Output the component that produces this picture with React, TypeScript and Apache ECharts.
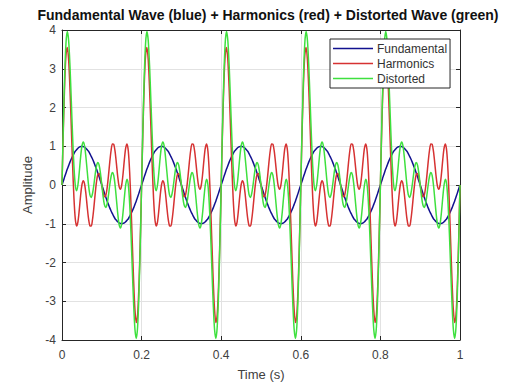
import React, { useEffect, useRef } from "react";
import * as echarts from "echarts";

// one 0.2 s cycle, 60 samples per cycle (300 samples per second)
const SAMPLES_PER_SECOND = 300;

const fundamentalCycle = [
  0, 0.10, 0.21, 0.31, 0.41, 0.50, 0.59, 0.67, 0.74, 0.81, 0.87, 0.91, 0.95, 0.98, 0.99, 1.00,
  0.99, 0.98, 0.95, 0.91, 0.87, 0.81, 0.74, 0.67, 0.59, 0.50, 0.41, 0.31, 0.21, 0.10, 0,
  -0.10, -0.21, -0.31, -0.41, -0.50, -0.59, -0.67, -0.74, -0.81, -0.87, -0.91, -0.95, -0.98, -0.99, -1.00,
  -0.99, -0.98, -0.95, -0.91, -0.87, -0.81, -0.74, -0.67, -0.59, -0.50, -0.41, -0.31, -0.21, -0.10,
];

const harmonicsCycle = [
  0, 1.42, 2.60, 3.35, 3.55, 3.23, 2.49, 1.51, 0.51, -0.33, -0.87, -1.06, -0.95, -0.65, -0.28, 0,
  0.11, 0.03, -0.22, -0.56, -0.87, -1.05, -1.06, -0.89, -0.59, -0.23, 0.08, 0.27, 0.30, 0.19, 0,
  -0.19, -0.30, -0.27, -0.08, 0.23, 0.59, 0.89, 1.06, 1.05, 0.87, 0.56, 0.22, -0.03, -0.11, 0,
  0.28, 0.65, 0.95, 1.06, 0.87, 0.33, -0.51, -1.51, -2.49, -3.23, -3.55, -3.35, -2.60, -1.42,
];

const distortedCycle = [
  0, 1.53, 2.81, 3.66, 3.96, 3.73, 3.08, 2.18, 1.25, 0.48, 0, -0.15, 0, 0.33, 0.71, 1.00,
  1.11, 1.01, 0.73, 0.36, 0, -0.25, -0.32, -0.22, 0, 0.27, 0.49, 0.58, 0.51, 0.30, 0,
  -0.30, -0.51, -0.58, -0.49, -0.27, 0, 0.22, 0.32, 0.25, 0, -0.36, -0.73, -1.01, -1.11, -1.00,
  -0.71, -0.33, 0, 0.15, 0, -0.48, -1.25, -2.18, -3.08, -3.73, -3.96, -3.66, -2.81, -1.53,
];

// the plot shows five identical cycles over 0..1 s
const fundamental = [...fundamentalCycle, ...fundamentalCycle, ...fundamentalCycle, ...fundamentalCycle, ...fundamentalCycle, 0];
const harmonics = [...harmonicsCycle, ...harmonicsCycle, ...harmonicsCycle, ...harmonicsCycle, ...harmonicsCycle, 0];
const distorted = [...distortedCycle, ...distortedCycle, ...distortedCycle, ...distortedCycle, ...distortedCycle, 0];

const seriesNames = ["Fundamental", "Harmonics", "Distorted"];
const seriesColors = ["#12128f", "#d63232", "#3ee03e"];
const xTickLabels = ["0", "0.2", "0.4", "0.6", "0.8", "1"];

const FONT = "Liberation Sans, Arial, sans-serif";
const AXIS_COLOR = "#262626";
const LABEL_COLOR = "#404040";
const GRID_COLOR = "#e2e2e2";

export default function App() {
  const ref = useRef<HTMLDivElement>(null);

  useEffect(() => {
    if (!ref.current) return;
    const chart = echarts.init(ref.current, undefined, { renderer: "svg" });
    const toPairs = (arr: number[]) => arr.map((v, i) => [i / SAMPLES_PER_SECOND, v]);
    const data = [fundamental, harmonics, distorted];

    const baseX = {
      type: "value" as const,
      min: 0,
      max: 1,
      interval: 0.2,
      axisLine: { show: true, onZero: false, lineStyle: { color: AXIS_COLOR, width: 1 } },
      axisTick: { show: true, inside: true, length: 4, lineStyle: { color: AXIS_COLOR } },
    };
    const baseY = {
      type: "value" as const,
      min: -4,
      max: 4,
      interval: 1,
      axisLine: { show: true, onZero: false, lineStyle: { color: AXIS_COLOR, width: 1 } },
      axisTick: { show: true, inside: true, length: 4, lineStyle: { color: AXIS_COLOR } },
    };

    chart.setOption({
      animation: false,
      backgroundColor: "#ffffff",
      textStyle: { fontFamily: FONT },
      title: {
        text: "Fundamental Wave (blue) + Harmonics (red) + Distorted Wave (green)",
        left: 263,
        top: 2,
        textAlign: "center",
        textStyle: { fontFamily: FONT, fontSize: 14, fontWeight: "bold", color: "#111", lineHeight: 16 },
      },
      legend: {
        data: seriesNames,
        orient: "vertical",
        left: 330,
        top: 39,
        icon: "rect",
        itemWidth: 40,
        itemHeight: 1.5,
        itemGap: 2,
        padding: [3, 3, 3, 3],
        borderColor: AXIS_COLOR,
        borderWidth: 1,
        borderRadius: 0,
        backgroundColor: "#ffffff",
        textStyle: { fontFamily: FONT, fontSize: 12, color: "#333", lineHeight: 13, padding: [0, 0, 0, -1] },
      },
      grid: { left: 62, right: 52, top: 30, bottom: 42, containLabel: false },
      xAxis: [
        {
          ...baseX,
          position: "bottom",
          name: "Time (s)",
          nameLocation: "middle",
          nameGap: 28,
          nameTextStyle: { fontFamily: FONT, fontSize: 13, color: LABEL_COLOR },
          axisLabel: {
            color: LABEL_COLOR,
            fontSize: 12,
            fontFamily: FONT,
            margin: 9,
            formatter: (v: number) => xTickLabels[Math.round(v / 0.2)] ?? String(v),
          },
          splitLine: { show: true, lineStyle: { color: GRID_COLOR, width: 1 } },
        },
        {
          ...baseX,
          position: "top",
          axisLabel: { show: false },
          splitLine: { show: false },
        },
      ],
      yAxis: [
        {
          ...baseY,
          position: "left",
          name: "Amplitude",
          nameLocation: "middle",
          nameGap: 18,
          nameRotate: 90,
          nameTextStyle: { fontFamily: FONT, fontSize: 13, color: LABEL_COLOR },
          axisLabel: { color: LABEL_COLOR, fontSize: 12, fontFamily: FONT, margin: 6 },
          splitLine: { show: true, lineStyle: { color: GRID_COLOR, width: 1 } },
        },
        {
          ...baseY,
          position: "right",
          axisLabel: { show: false },
          splitLine: { show: false },
        },
      ],
      series: seriesNames.map((name, i) => ({
        name,
        type: "line",
        xAxisIndex: 0,
        yAxisIndex: 0,
        data: toPairs(data[i]),
        showSymbol: false,
        symbol: "none",
        smooth: 0.3,
        clip: true,
        lineStyle: { color: seriesColors[i], width: 1.5 },
        itemStyle: { color: seriesColors[i] },
      })),
    });

    return () => chart.dispose();
  }, []);

  return <div ref={ref} style={{ width: 512, height: 386, position: "absolute", left: 0, top: 0 }} />;
}
